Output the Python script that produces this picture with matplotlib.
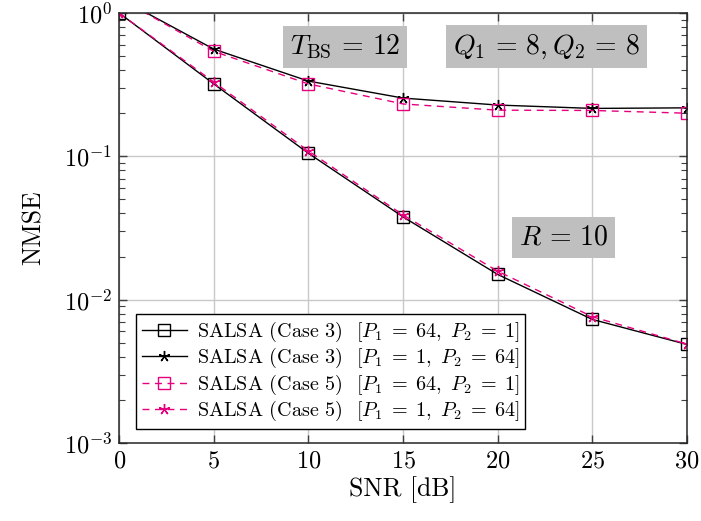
import matplotlib
matplotlib.use("Agg")
import matplotlib.pyplot as plt
from matplotlib.ticker import LogLocator, NullFormatter

# Estilo parecido a pgfplots / Computer Modern
plt.rcParams['font.family'] = 'serif'
plt.rcParams['font.serif'] = ['cmr10']
plt.rcParams['mathtext.fontset'] = 'cm'
plt.rcParams['axes.formatter.use_mathtext'] = True
plt.rcParams['axes.unicode_minus'] = False

# -----------------------------------------------------------------------------
# Datos
snr = [0, 5, 10, 15, 20, 25, 30]

case3_p64_p1 = [1.0, 0.32, 0.105, 0.0378, 0.0150, 0.00728, 0.00487]
case3_p1_p64 = [1.27, 0.56, 0.335, 0.255, 0.228, 0.216, 0.218]
case5_p64_p1 = [1.27, 0.54, 0.32, 0.232, 0.21, 0.209, 0.20]
case5_p1_p64 = [1.0, 0.33, 0.109, 0.039, 0.0158, 0.0076, 0.0049]

etiquetas = [
    r'SALSA (Case 3)  $[P_1\;=\;64,\ P_2\;=\;1]$',
    r'SALSA (Case 3)  $[P_1\;=\;1,\ P_2\;=\;64]$',
    r'SALSA (Case 5)  $[P_1\;=\;64,\ P_2\;=\;1]$',
    r'SALSA (Case 5)  $[P_1\;=\;1,\ P_2\;=\;64]$',
]

ROSA = '#e6007e'
ESTRELLA = (5, 2, 0)

fig = plt.figure(figsize=(7.01, 5.21), dpi=100)
ax = fig.add_axes([0.170, 0.1497, 0.810, 0.8253])

ax.plot(snr, case3_p64_p1, color='black', lw=1.0, marker='s', ms=8,
        mfc='none', mec='black', mew=1.0, label=etiquetas[0])
ax.plot(snr, case3_p1_p64, color='black', lw=1.0, marker=ESTRELLA, ms=8,
        mec='black', mew=1.0, label=etiquetas[1])
ax.plot(snr, case5_p64_p1, color=ROSA, lw=1.0, dashes=(5, 4), marker='s', ms=8,
        mfc='none', mec=ROSA, mew=1.0, label=etiquetas[2])
ax.plot(snr, case5_p1_p64, color=ROSA, lw=1.0, dashes=(5, 4), marker=ESTRELLA, ms=8,
        mec=ROSA, mew=1.0, label=etiquetas[3])

ax.set_yscale('log')
ax.set_xlim(0, 30)
ax.set_ylim(1e-3, 1e0)
ax.set_xticks([0, 5, 10, 15, 20, 25, 30])
ax.yaxis.set_major_locator(LogLocator(base=10, numticks=10))
ax.yaxis.set_minor_locator(LogLocator(base=10, subs=range(2, 10), numticks=10))
ax.yaxis.set_minor_formatter(NullFormatter())

ax.grid(True, which='major', color='#c8c8c8', lw=1.0)
ax.set_axisbelow(True)
ax.tick_params(which='both', direction='in', top=True, right=True,
               labelsize=17.5, color='#404040')
ax.tick_params(which='major', length=6, width=1.0, pad=5)
ax.tick_params(which='minor', length=4, width=0.8)
for s in ax.spines.values():
    s.set_color('#262626')
    s.set_linewidth(1.1)

ax.set_xlabel('SNR [dB]', fontsize=18.5, labelpad=3)
ax.set_ylabel('NMSE', fontsize=18.5, labelpad=13)

caja = dict(boxstyle='square,pad=0.25', facecolor='#bfbfbf', edgecolor='none')
ax.text(0.398, 0.922, r'$T_{\rm BS}\,=\,12$', transform=ax.transAxes,
        ha='center', va='center', fontsize=20, bbox=caja)
ax.text(0.753, 0.922, r'$Q_1\,=\,8, Q_2\,=\,8$', transform=ax.transAxes,
        ha='center', va='center', fontsize=20, bbox=caja)
ax.text(0.782, 0.478, r'$R\,=\,10$', transform=ax.transAxes,
        ha='center', va='center', fontsize=20, bbox=caja)

leg = ax.legend(loc='lower left', bbox_to_anchor=(0.03, 0.033), borderaxespad=0,
                fontsize=14.5, fancybox=False, framealpha=1, edgecolor='black',
                handlelength=2.2, labelspacing=0.1, borderpad=0.3, handletextpad=0.5)
leg.get_frame().set_linewidth(1.0)

fig.savefig('out.png', dpi=100)
